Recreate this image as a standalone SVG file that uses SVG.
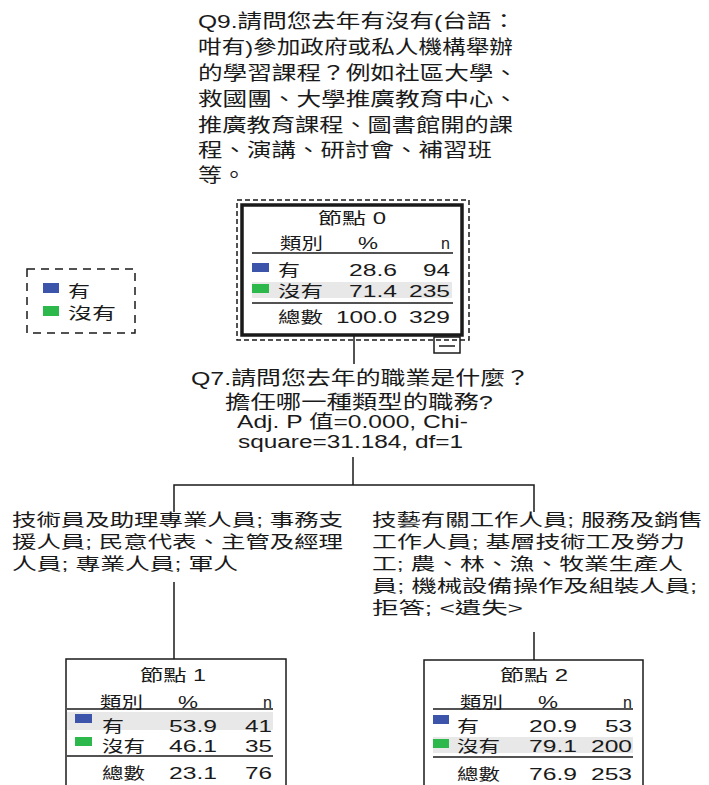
<svg xmlns="http://www.w3.org/2000/svg" width="709" height="785" viewBox="0 0 709 785">
<style>
text{font-family:"Liberation Sans","Noto Sans CJK TC",sans-serif;fill:#1a1a1a}
.t{font-size:19px}
.q{font-size:18px}
.b{font-size:17px}
.n{font-size:16px}
.ln{stroke:#1a1a1a;stroke-width:1.5;fill:none}
.box{stroke:#1a1a1a;stroke-width:1.5;fill:#fff}
.hl{fill:#e8e8e8}
.blue{fill:#3c55ab}
.green{fill:#2db84b}
.conn{stroke:#1a1a1a;stroke-width:1.5;fill:none}
</style>
<rect width="709" height="785" fill="#fff"/>

<g id="title">
<text class="t" x="198" y="28" textLength="318" lengthAdjust="spacingAndGlyphs">Q9.請問您去年有沒有(台語：</text>
<text class="t" x="198" y="54" textLength="315" lengthAdjust="spacingAndGlyphs">咁有)參加政府或私人機構舉辦</text>
<text class="t" x="198" y="80" textLength="320" lengthAdjust="spacingAndGlyphs">的學習課程？例如社區大學、</text>
<text class="t" x="198" y="106" textLength="320" lengthAdjust="spacingAndGlyphs">救國團、大學推廣教育中心、</text>
<text class="t" x="198" y="132" textLength="315" lengthAdjust="spacingAndGlyphs">推廣教育課程、圖書館開的課</text>
<text class="t" x="198" y="157" textLength="294" lengthAdjust="spacingAndGlyphs">程、演講、研討會、補習班</text>
<text class="t" x="198" y="182" textLength="48" lengthAdjust="spacingAndGlyphs">等。</text>
</g>

<g id="legend">
<rect x="27" y="269" width="108" height="64" fill="none" stroke="#1a1a1a" stroke-width="1.5" stroke-dasharray="8,6"/>
<rect class="blue" x="43" y="283" width="16" height="10"/>
<text class="n" x="68" y="297" textLength="22" lengthAdjust="spacingAndGlyphs">有</text>
<rect class="green" x="43" y="306" width="16" height="10"/>
<text class="n" x="68" y="318.5" textLength="48" lengthAdjust="spacingAndGlyphs">沒有</text>
</g>

<g id="connectors">
<line class="conn" x1="354" y1="336" x2="354" y2="364"/>
<line class="conn" x1="353" y1="457" x2="353" y2="485"/>
<polyline class="conn" points="174,512 174,485 534,485 534,512"/>
<line class="conn" x1="174" y1="582" x2="174" y2="659"/>
<line class="conn" x1="534" y1="632" x2="534" y2="660"/>
</g>

<g id="split-label">
<text class="t" x="191" y="385" textLength="339" lengthAdjust="spacingAndGlyphs">Q7.請問您去年的職業是什麼？</text>
<text class="t" x="225" y="408.5" textLength="268" lengthAdjust="spacingAndGlyphs">擔任哪一種類型的職務?</text>
<text class="q" x="237" y="428" textLength="231" lengthAdjust="spacingAndGlyphs">Adj. P 值=0.000, Chi-</text>
<text class="q" x="238" y="448" textLength="225" lengthAdjust="spacingAndGlyphs">square=31.184, df=1</text>
</g>

<g id="branch-left">
<text class="b" x="12" y="525.5" textLength="331" lengthAdjust="spacingAndGlyphs">技術員及助理專業人員; 事務支</text>
<text class="b" x="12" y="547.5" textLength="331" lengthAdjust="spacingAndGlyphs">援人員; 民意代表、主管及經理</text>
<text class="b" x="12" y="569.5" textLength="226" lengthAdjust="spacingAndGlyphs">人員; 專業人員; 軍人</text>
</g>

<g id="branch-right">
<text class="b" x="372" y="526" textLength="331" lengthAdjust="spacingAndGlyphs">技藝有關工作人員; 服務及銷售</text>
<text class="b" x="372" y="548" textLength="313" lengthAdjust="spacingAndGlyphs">工作人員; 基層技術工及勞力</text>
<text class="b" x="372" y="570" textLength="311" lengthAdjust="spacingAndGlyphs">工; 農、林、漁、牧業生產人</text>
<text class="b" x="372" y="592" textLength="325" lengthAdjust="spacingAndGlyphs">員; 機械設備操作及組裝人員;</text>
<text class="b" x="372" y="614" textLength="151" lengthAdjust="spacingAndGlyphs">拒答; &lt;遺失&gt;</text>
</g>

<g id="node0">
<rect x="237" y="200" width="232" height="140" fill="none" stroke="#1a1a1a" stroke-width="1.5" stroke-dasharray="5,3"/>
<rect x="242" y="205" width="220" height="130" fill="none" stroke="#1a1a1a" stroke-width="3.5"/>
<rect x="434" y="337" width="26" height="16" fill="none" stroke="#1a1a1a" stroke-width="1.5"/>
<line class="ln" x1="439" y1="346" x2="455" y2="346"/>
<text class="n" x="318" y="223.5" textLength="68" lengthAdjust="spacingAndGlyphs">節點 0</text>
<text class="n" x="280" y="249" textLength="43" lengthAdjust="spacingAndGlyphs">類別</text>
<text class="n" x="358" y="249" textLength="20" lengthAdjust="spacingAndGlyphs">%</text>
<text class="n" x="450" y="249" text-anchor="end">n</text>
<line class="ln" x1="252" y1="253" x2="453" y2="253"/>
<rect class="blue" x="252" y="263" width="17" height="9"/>
<text class="n" x="278" y="275.5" textLength="22" lengthAdjust="spacingAndGlyphs">有</text>
<text class="n" x="349" y="275.5" textLength="48" lengthAdjust="spacingAndGlyphs">28.6</text>
<text class="n" x="423" y="275.5" textLength="27" lengthAdjust="spacingAndGlyphs">94</text>
<rect class="hl" x="252" y="282" width="200" height="16"/>
<rect class="green" x="252" y="284" width="17" height="9"/>
<text class="n" x="278" y="297" textLength="45" lengthAdjust="spacingAndGlyphs">沒有</text>
<text class="n" x="349" y="297" textLength="48" lengthAdjust="spacingAndGlyphs">71.4</text>
<text class="n" x="409" y="297" textLength="41" lengthAdjust="spacingAndGlyphs">235</text>
<line class="ln" x1="252" y1="303" x2="453" y2="303"/>
<text class="n" x="278" y="323" textLength="45" lengthAdjust="spacingAndGlyphs">總數</text>
<text class="n" x="336" y="323" textLength="61" lengthAdjust="spacingAndGlyphs">100.0</text>
<text class="n" x="409" y="323" textLength="41" lengthAdjust="spacingAndGlyphs">329</text>
</g>

<g id="node1">
<rect class="box" x="66" y="659" width="220" height="200"/>
<text class="n" x="140" y="680.5" textLength="66" lengthAdjust="spacingAndGlyphs">節點 1</text>
<text class="n" x="100" y="707.5" textLength="43" lengthAdjust="spacingAndGlyphs">類別</text>
<text class="n" x="178" y="707.5" textLength="20" lengthAdjust="spacingAndGlyphs">%</text>
<text class="n" x="272" y="707.5" text-anchor="end">n</text>
<line class="ln" x1="67" y1="709" x2="273" y2="709"/>
<rect class="hl" x="67" y="712" width="206" height="18"/>
<rect class="blue" x="75" y="714" width="17" height="9"/>
<text class="n" x="102" y="731.5" textLength="22" lengthAdjust="spacingAndGlyphs">有</text>
<text class="n" x="169" y="731.5" textLength="48" lengthAdjust="spacingAndGlyphs">53.9</text>
<text class="n" x="245" y="731.5" textLength="27" lengthAdjust="spacingAndGlyphs">41</text>
<rect class="green" x="75" y="737" width="17" height="9"/>
<text class="n" x="102" y="752" textLength="43" lengthAdjust="spacingAndGlyphs">沒有</text>
<text class="n" x="169" y="752" textLength="48" lengthAdjust="spacingAndGlyphs">46.1</text>
<text class="n" x="245" y="752" textLength="27" lengthAdjust="spacingAndGlyphs">35</text>
<line class="ln" x1="67" y1="756" x2="273" y2="756"/>
<text class="n" x="102" y="779" textLength="43" lengthAdjust="spacingAndGlyphs">總數</text>
<text class="n" x="169" y="779" textLength="48" lengthAdjust="spacingAndGlyphs">23.1</text>
<text class="n" x="245" y="779" textLength="27" lengthAdjust="spacingAndGlyphs">76</text>
</g>

<g id="node2">
<rect class="box" x="424" y="660" width="219" height="200"/>
<text class="n" x="500" y="681" textLength="68" lengthAdjust="spacingAndGlyphs">節點 2</text>
<text class="n" x="460" y="707.5" textLength="43" lengthAdjust="spacingAndGlyphs">類別</text>
<text class="n" x="538" y="707.5" textLength="20" lengthAdjust="spacingAndGlyphs">%</text>
<text class="n" x="632" y="707.5" text-anchor="end">n</text>
<line class="ln" x1="433" y1="709" x2="633" y2="709"/>
<rect class="blue" x="433" y="715" width="16" height="9"/>
<text class="n" x="457" y="731.5" textLength="22" lengthAdjust="spacingAndGlyphs">有</text>
<text class="n" x="529" y="731.5" textLength="48" lengthAdjust="spacingAndGlyphs">20.9</text>
<text class="n" x="605" y="731.5" textLength="27" lengthAdjust="spacingAndGlyphs">53</text>
<rect class="hl" x="433" y="737" width="200" height="16"/>
<rect class="green" x="433" y="739" width="16" height="9"/>
<text class="n" x="457" y="752" textLength="43" lengthAdjust="spacingAndGlyphs">沒有</text>
<text class="n" x="529" y="752" textLength="48" lengthAdjust="spacingAndGlyphs">79.1</text>
<text class="n" x="591" y="752" textLength="41" lengthAdjust="spacingAndGlyphs">200</text>
<line class="ln" x1="433" y1="757" x2="633" y2="757"/>
<text class="n" x="457" y="779.5" textLength="43" lengthAdjust="spacingAndGlyphs">總數</text>
<text class="n" x="529" y="779.5" textLength="48" lengthAdjust="spacingAndGlyphs">76.9</text>
<text class="n" x="591" y="779.5" textLength="41" lengthAdjust="spacingAndGlyphs">253</text>
</g>
</svg>
